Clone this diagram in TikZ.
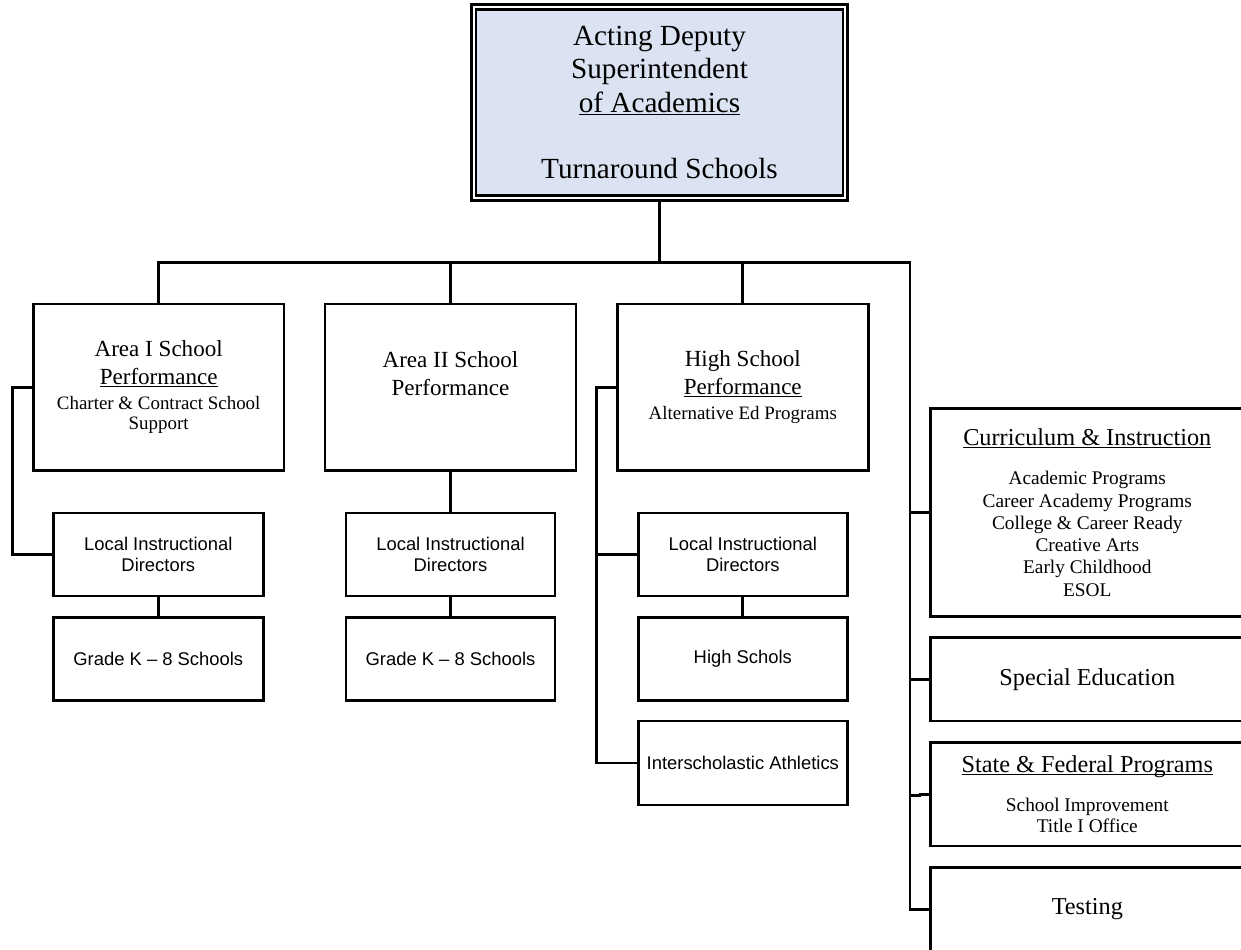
\documentclass[tikz,border=0pt]{standalone}
\usepackage{fontspec}
\setmainfont{Liberation Serif}
\newfontfamily\arialf{Liberation Sans}
\newcommand\myul[1]{\setbox0\hbox{#1}\rlap{\rule[-0.11em]{\wd0}{0.055em}}\box0}
\newcommand\nols{\lineskiplimit=-100pt\lineskip=0pt}
\newcommand\topf{\fontsize{21.9}{25.1}\selectfont\nols}
\newcommand\areaf{\fontsize{17.3}{15}\selectfont\nols}
\newcommand\smf{\fontsize{14.2}{15}\selectfont}
\newcommand\ttlf{\fontsize{18.2}{20}\selectfont\nols}
\newcommand\listf{\fontsize{14.5}{16.7}\selectfont\nols}
\newcommand\sflistf{\fontsize{14.5}{15.75}\selectfont\nols}
\newcommand\sansf{\arialf\fontsize{13.8}{15.75}\selectfont\nols}
\definecolor{topblue}{RGB}{219,226,241}
\begin{document}
\begin{tikzpicture}[x=0.75pt,y=-0.75pt,
  lw/.style={line width=2pt},
  box/.style={draw,lw,rectangle,align=center,inner sep=0pt,line join=miter,fill=white},
  sz/.style 2 args={minimum width=#1*0.75pt,minimum height=#2*0.75pt},
  conn/.style={draw,lw,line join=miter}]
\path[use as bounding box,fill=white] (0,0) rectangle (1241,949);

% top
\node[box,sz={371.8}{191},double,double distance=1.5pt,line width=1.9pt,fill=topblue,font=\topf] (top) at (659.5,102.5)
 {Acting Deputy\\Superintendent\\\myul{of Academics}\\[25.1pt]Turnaround Schools};

% area boxes
\node[box,sz={250.7}{166.7},font=\areaf] (a1) at (158.7,387.3)
 {Area I School\\[5.8pt]\myul{Performance}\\[4pt]{\smf Charter \& Contract School}\\{\smf Support}};
\node[box,sz={251}{166.7},font=\areaf] (a2) at (450.5,387.3)
 {Area II School\\[5.8pt]Performance\\[1.5pt]{\smf\strut}};
\node[box,sz={251}{166.7},font=\areaf] (hs) at (742.8,387.3)
 {High School\\[5.8pt]\myul{Performance}\\[4pt]{\smf Alternative Ed Programs}};

% sans boxes
\node[box,sz={210}{83},font=\sansf] (l1) at (158.3,554.5) {Local Instructional\\Directors};
\node[box,sz={210}{83.4},font=\sansf] (k1) at (158.3,659) {Grade K – 8 Schools};
\node[box,sz={209}{83},font=\sansf] (l2) at (450.5,554.5) {Local Instructional\\Directors};
\node[box,sz={209}{83.4},font=\sansf] (k2) at (450.5,659) {Grade K – 8 Schools};
\node[box,sz={209}{83},font=\sansf] (l3) at (742.8,554.5) {Local Instructional\\Directors};
\node[box,sz={209}{83.4},font=\sansf] (h3) at (742.8,659) {High Schols};
\node[box,sz={209}{84},font=\sansf] (ia) at (742.8,763) {Interscholastic Athletics};

% right column
\node[box,sz={313.3}{208.4},font=\listf] (ci) at (1087.3,512.5)
 {{\ttlf\myul{Curriculum \& Instruction}}\\[12.8pt]Academic Programs\\Career Academy Programs\\College \& Career Ready\\Creative Arts\\Early Childhood\\ESOL};
\node[box,sz={313.3}{83.5},font=\ttlf] (se) at (1087.3,679.3) {Special Education};
\node[box,sz={313.3}{103.7},font=\sflistf] (sf) at (1087.3,794.2)
 {{\ttlf\myul{State \& Federal Programs}}\\[14pt]School Improvement\\Title I Office};
\node[box,sz={313.3}{83.6},font=\ttlf] (te) at (1087.3,909.5) {Testing};

% connector helpers
\coordinate (bus) at (0,262.3);
\coordinate (trunk) at (910,0);
\coordinate (lv1) at (12.3,0);
\coordinate (lv3) at (596.7,0);
\coordinate (sfj) at (920,795.7);

\draw[conn] (top.south) -- (top.south |- bus);
\draw[conn] (a1.north) -- (a1.north |- bus) -- (bus -| trunk) -- (trunk |- te.west) -- (te.west);
\draw[conn] (a2.north) -- (a2.north |- bus);
\draw[conn] (hs.north) -- (hs.north |- bus);
\draw[conn] (ci.west) -- (ci.west -| trunk);
\draw[conn] (se.west) -- (se.west -| trunk);
\draw[conn] (sf.west) -| (sfj) -- (sfj -| trunk);
\draw[conn] (a1.west) -- (a1.west -| lv1) -- (l1.west -| lv1) -- (l1.west);
\draw[conn] (hs.west) -- (hs.west -| lv3) -- (ia.west -| lv3) -- (ia.west);
\draw[conn] (l3.west) -- (l3.west -| lv3);
\draw[conn] (a2.south) -- (l2.north);
\draw[conn] (l1.south) -- (k1.north);
\draw[conn] (l2.south) -- (k2.north);
\draw[conn] (l3.south) -- (h3.north);
\end{tikzpicture}
\end{document}
